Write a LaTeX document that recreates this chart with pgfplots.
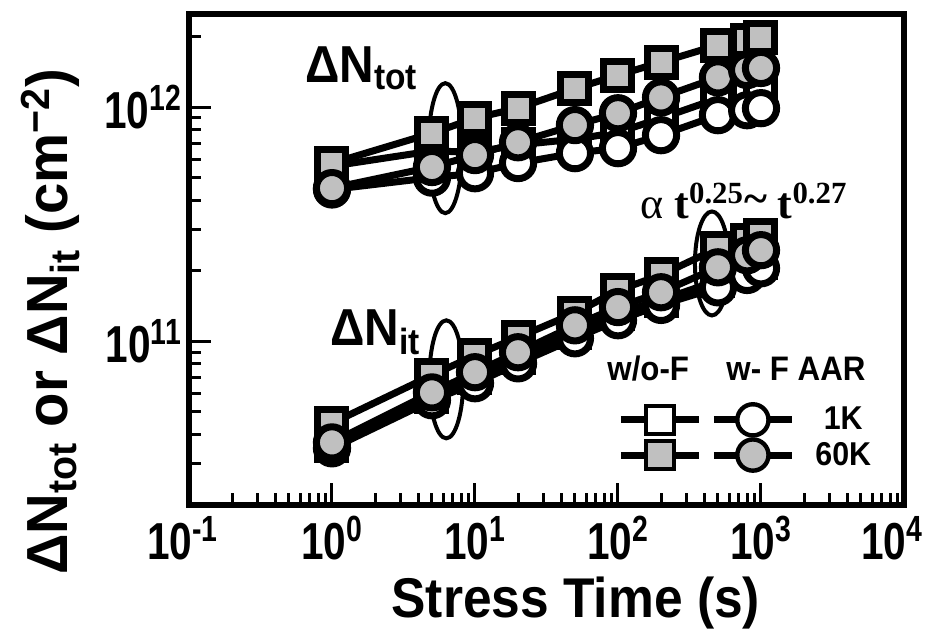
\documentclass[border=0pt]{standalone}
\usepackage{pgfplots}
\pgfplotsset{compat=1.18}
\usepackage{fontspec}
\setmainfont{Liberation Sans}
\newfontfamily\tickf[FakeStretch=0.78]{Liberation Sans}
\newfontfamily\labf[FakeStretch=0.92]{Liberation Sans}
\newfontfamily\ylabf[FakeStretch=0.97]{Liberation Sans}
\newfontfamily\serf{Liberation Serif}
\definecolor{mgray}{RGB}{192,192,192}
\pgfplotstableread{
t     osq      gsq      ocir     gcir
1     5.6e11   5.76e11  4.45e11  4.51e11
5     6.5e11   7.74e11  5.0e11   5.55e11
10    6.42e11  8.97e11  5.22e11  6.24e11
20    6.9e11   9.9e11   5.77e11  7.08e11
50    7.3e11   1.2e12   6.36e11  8.38e11
100   7.8e11   1.37e12  6.68e11  9.42e11
200   8.97e11  1.556e12 7.59e11  1.10e12
500   1.09e12  1.84e12  9.24e11  1.34e12
800   1.13e12  1.93e12  9.7e11   1.44e12
1000  1.13e12  1.99e12  9.9e11   1.47e12
}\ntot
\pgfplotstableread{
t     osq      gsq      ocir     gcir
1     3.60e10  4.47e10  3.49e10  3.70e10
5     5.82e10  7.16e10  5.60e10  6.05e10
10    7.02e10  8.71e10  6.62e10  7.38e10
20    8.55e10  1.04e11  8.05e10  8.98e10
50    1.09e11  1.32e11  1.03e11  1.17e11
100   1.32e11  1.65e11  1.23e11  1.40e11
200   1.50e11  1.92e11  1.43e11  1.62e11
500   1.82e11  2.50e11  1.70e11  2.07e11
800   2.05e11  2.70e11  1.92e11  2.33e11
1000  2.18e11  2.84e11  2.05e11  2.45e11
}\nit
\begin{document}
\begin{tikzpicture}
\begin{axis}[
  xmode=log, ymode=log,
  scale only axis, width=357.5pt, height=245.5pt,
  xmin=0.1, xmax=10000, ymin=2e10, ymax=2.5e12,
  axis line style={line width=3pt},
  tick align=inside, xtick pos=bottom, ytick pos=left,
  major tick length=11pt, minor tick length=6pt,
  every tick/.style={black, line width=1.5pt},
  xtick={0.1,1,10,100,1000,10000},
  xticklabels={\hspace*{-6pt}10\textsuperscript{-1},10\textsuperscript{0},10\textsuperscript{1},10\textsuperscript{2},10\textsuperscript{3},10\textsuperscript{4}\hspace*{12pt}},
  minor xtick={0.2,0.3,0.4,0.5,0.6,0.7,0.8,0.9,2,3,4,5,6,7,8,9,20,30,40,50,60,70,80,90,200,300,400,500,600,700,800,900,2000,3000,4000,5000,6000,7000,8000,9000},
  ytick={1e11,1e12},
  yticklabels={10\textsuperscript{11},10\textsuperscript{12}},
  minor ytick={3e10,4e10,5e10,6e10,7e10,8e10,9e10,2e11,3e11,4e11,5e11,6e11,7e11,8e11,9e11,2e12},
  xticklabel style={font=\tickf\bfseries\fontsize{26}{26}\selectfont, yshift=-2pt},
  yticklabel style={font=\tickf\bfseries\fontsize{26}{26}\selectfont},
  xlabel={Stress Time (s)},
  ylabel={ΔN\textsubscript{tot} or ΔN\textsubscript{it} (cm\textsuperscript{−2})},
  xlabel style={font=\labf\bfseries\fontsize{28}{28}\selectfont, at={(rel axis cs:0.541,-0.2)}, anchor=center},
  ylabel style={font=\ylabf\bfseries\fontsize{29}{29}\selectfont, at={(rel axis cs:-0.194,0.373)}, anchor=center},
  every axis plot/.append style={line width=3.5pt, mark options={line width=2.2pt, solid}},
  legend image code/.code={\draw[mark repeat=2,mark phase=2,#1] plot coordinates {(0pt,0pt) (19.5pt,0pt) (39pt,0pt)};},
  legend columns=2,
  legend cell align=center,
  legend style={draw=none, fill=none, at={(rel axis cs:0.778,0.1375)}, anchor=center,
    font=\labf\bfseries\fontsize{16.5}{16.5}\selectfont, row sep=2pt,
    nodes={inner sep=1pt},
    /tikz/column 1/.style={column sep=2pt},
    /tikz/column 2/.style={column sep=0pt},
    /tikz/column 3/.style={column sep=9pt}},
  clip=false,
]
% Delta N_tot
\addplot[black, mark=square*, mark size=7pt, mark options={fill=white}, forget plot] table[x=t,y=osq] {\ntot};
\addplot[black, mark=*, mark size=7.8pt, mark options={fill=white}, forget plot] table[x=t,y=ocir] {\ntot};
\addplot[black, mark=square*, mark size=7pt, mark options={fill=mgray}, forget plot] table[x=t,y=gsq] {\ntot};
\addplot[black, mark=*, mark size=7.8pt, mark options={fill=mgray}, forget plot] table[x=t,y=gcir] {\ntot};
% Delta N_it
\addplot[black, mark=square*, mark size=7pt, mark options={fill=white}, forget plot] table[x=t,y=osq] {\nit};
\addplot[black, mark=*, mark size=7.8pt, mark options={fill=white}, forget plot] table[x=t,y=ocir] {\nit};
\addplot[black, mark=square*, mark size=7pt, mark options={fill=mgray}, forget plot] table[x=t,y=gsq] {\nit};
\addplot[black, mark=*, mark size=7.8pt, mark options={fill=mgray}, forget plot] table[x=t,y=gcir] {\nit};
% legend
\addlegendimage{black, line width=3.5pt, mark=square*, mark size=7pt, mark options={fill=white, line width=2.2pt}}
\addlegendentry{}
\addlegendimage{black, line width=3.5pt, mark=*, mark size=7.8pt, mark options={fill=white, line width=2.2pt}}
\addlegendentry{1K}
\addlegendimage{black, line width=3.5pt, mark=square*, mark size=7pt, mark options={fill=mgray, line width=2.2pt}}
\addlegendentry{}
\addlegendimage{black, line width=3.5pt, mark=*, mark size=7.8pt, mark options={fill=mgray, line width=2.2pt}}
\addlegendentry{60K}
% ellipses
\draw[line width=2pt] (axis cs:6.2,6.68e11) ellipse [x radius=8.5pt, y radius=32.5pt];
\draw[line width=2pt] (axis cs:6.3,6.88e10) ellipse [x radius=8.5pt, y radius=29.5pt];
\draw[line width=2pt] (axis cs:454,2.15e11) ellipse [x radius=8.5pt, y radius=26pt];
% annotations
\node[anchor=base west, inner sep=0pt, font=\labf\bfseries\fontsize{26}{26}\selectfont] at (axis cs:0.647,1.28e12) {ΔN\textsubscript{tot}};
\node[anchor=base west, inner sep=0pt, font=\labf\bfseries\fontsize{26}{26}\selectfont] at (axis cs:0.97,9.62e10) {ΔN\textsubscript{it}};
\node[anchor=base west, inner sep=0pt, font=\serf\bfseries\fontsize{22}{22}\selectfont] at (axis cs:142.6,3.36e11) {{\mdseries α} t\textsuperscript{0.25}\raisebox{0.25ex}{\~{}} t\textsuperscript{0.27}};
\node[anchor=base west, inner sep=0pt, font=\labf\bfseries\fontsize{17}{17}\selectfont] at (axis cs:83.8,6.8e10) {w/o-F\hspace{1.1em}w- F AAR};
\end{axis}
\pgfresetboundingbox
\path[use as bounding box] ([shift={(-94.5pt,-66pt)}]current axis.south west) rectangle ([shift={(14pt,7pt)}]current axis.north east);
\end{tikzpicture}
\end{document}
